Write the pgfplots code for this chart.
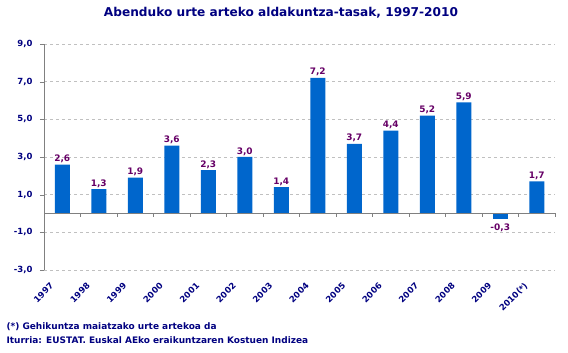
\documentclass[border=0pt]{standalone}
\usepackage{pgfplots}
\pgfplotsset{compat=1.18}
\usepackage{fontspec}
\setmainfont{DejaVu Sans}
\definecolor{navy}{RGB}{0,0,128}
\definecolor{barblue}{RGB}{0,102,204}
\definecolor{vallab}{RGB}{102,0,102}
\definecolor{gridgray}{RGB}{192,192,192}
\definecolor{axgray}{RGB}{128,128,128}
\begin{document}
\begin{tikzpicture}
\useasboundingbox (-44bp,-83bp) rectangle (524bp,270bp);
\begin{axis}[
  at={(0bp,0bp)}, anchor=south west,
  scale only axis, width=511bp, height=226bp,
  xmin=-0.5, xmax=13.5, ymin=-3, ymax=9,
  ybar, bar width=15bp, bar shift=0pt,
  axis y line=left, axis x line=bottom,
  x axis line style={draw=none},
  y axis line style={axgray, -},
  xtick={0,...,13},
  xticklabels={1997,1998,1999,2000,2001,2002,2003,2004,2005,2006,2007,2008,2009,2010(*)},
  xtick style={draw=none},
  ytick={-3,-1,1,3,5,7,9},
  ytick style={axgray},
  tick align=outside,
  major tick length=4bp,
  ymajorgrids,
  major grid style={gridgray, dash pattern=on 3bp off 3bp},
  /pgf/number format/assume math mode=true,
  yticklabel style={font=\bfseries\fontsize{8.5}{10}\selectfont, text=navy, xshift=-4bp, /pgf/number format/fixed, /pgf/number format/fixed zerofill, /pgf/number format/precision=1, /pgf/number format/use comma},
  xticklabel style={font=\bfseries\fontsize{8.5}{10}\selectfont, text=navy, xshift=-8bp, yshift=-8bp, rotate=45, anchor=east},
  nodes near coords,
  nodes near coords style={font=\bfseries\fontsize{9}{10}\selectfont, text=vallab, inner sep=1.5bp, /pgf/number format/fixed, /pgf/number format/fixed zerofill, /pgf/number format/precision=1, /pgf/number format/use comma, /pgf/number format/assume math mode=true},
  clip=false,
]
\addplot[fill=barblue, draw=none] coordinates {
 (0,2.6) (1,1.3) (2,1.9) (3,3.6) (4,2.3) (5,3.0) (6,1.4)
 (7,7.2) (8,3.7) (9,4.4) (10,5.2) (11,5.9) (13,1.7)};
\addplot[fill=barblue, draw=none, nodes near coords style={yshift=-3bp}] coordinates {(12,-0.3)};
\draw[axgray] (axis cs:-0.5,0) -- (axis cs:13.5,0);
\pgfplotsinvokeforeach{0.5,1.5,2.5,3.5,4.5,5.5,6.5,7.5,8.5,9.5,10.5,11.5,12.5,13.5}{\draw[axgray] (axis cs:#1,0) -- ([yshift=-4bp]axis cs:#1,0);}
\end{axis}
\node[font=\bfseries\fontsize{12.2}{14}\selectfont, text=navy] at (237bp,257bp) {Abenduko urte arteko aldakuntza-tasak, 1997-2010};
\node[font=\bfseries\fontsize{9}{11}\selectfont, text=navy, anchor=west] at (-41bp,-57bp) {(*) Gehikuntza maiatzako urte artekoa da};
\node[font=\bfseries\fontsize{9}{11}\selectfont, text=navy, anchor=west] at (-41bp,-70bp) {Iturria: EUSTAT. Euskal AEko eraikuntzaren Kostuen Indizea};
\end{tikzpicture}
\end{document}
